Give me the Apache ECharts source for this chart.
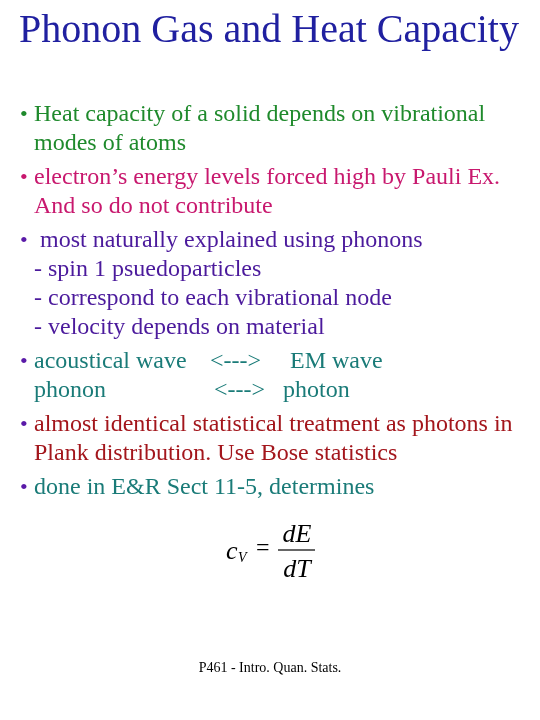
<!DOCTYPE html>
<html><head><meta charset="utf-8">
<script src="https://cdn.jsdelivr.net/npm/echarts@6/dist/echarts.min.js"></script>
<style>html,body{margin:0;padding:0;background:#fff}#c{width:540px;height:720px}</style>
</head><body><div id="c"></div>
<script>
const title = 'Phonon Gas and Heat Capacity';
const lines = [
  ['Heat capacity of a solid depends on vibrational', 'modes of atoms'],
  ['electron\u2019s energy levels forced high by Pauli Ex.', 'And so do not contribute'],
  [' most naturally explained using phonons', '- spin 1 psuedoparticles', '- correspond to each vibrational node', '- velocity depends on material'],
  [['acoustical wave', '<--->', 'EM wave'], ['phonon', '<--->', 'photon']],
  ['almost identical statistical treatment as photons in', 'Plank distribution. Use Bose statistics'],
  ['done in E&R Sect 11-5, determines']
];
const textColors = ['#1f8a2c', '#c8186e', '#4b1a9c', '#1a7b78', '#a3161c', '#1a7b78'];
const bulletColors = ['#1f8a2c', '#c8186e', '#5a1aa8', '#5a1aa8', '#5a1aa8', '#5a1aa8'];
const footer = 'P461 - Intro. Quan. Stats.';

const chart = echarts.init(document.getElementById('c'));
const F = 'Liberation Serif';
function T(x, y, text, size, fill, extra) {
  return {type:'text', x:x, y:y, style:Object.assign({text:text, fontFamily:F, fontSize:size, fill:fill, verticalAlign:'middle'}, extra||{})};
}
const colX = [[34, 210, 290], [34, 214, 283]];
const g = [];
g.push(T(269, 31, title, 40, '#2020a0', {align:'center'}));
let y = 115;
lines.forEach((grp, i) => {
  g.push(T(20, y, '\u2022', 22, bulletColors[i]));
  grp.forEach((t, j) => {
    if (Array.isArray(t)) t.forEach((s, k) => g.push(T(colX[j][k], y, s, 24, textColors[i])));
    else g.push(T(34, y, t, 24, textColors[i]));
    y += 29;
  });
  y += 5;
});
g.push(T(226, 552, 'c', 26, '#000', {fontStyle:'italic'}));
g.push(T(238, 558, 'V', 14, '#000', {fontStyle:'italic'}));
g.push(T(256, 549, '=', 24, '#000'));
g.push(T(297, 535, 'dE', 26, '#000', {fontStyle:'italic', align:'center'}));
g.push({type:'line', shape:{x1:278, y1:550, x2:315, y2:550}, style:{stroke:'#333', lineWidth:1.5}});
g.push(T(297, 570, 'dT', 26, '#000', {fontStyle:'italic', align:'center'}));
g.push(T(270, 668, footer, 14, '#000', {align:'center'}));
chart.setOption({graphic:{elements:g}});
</script></body></html>
